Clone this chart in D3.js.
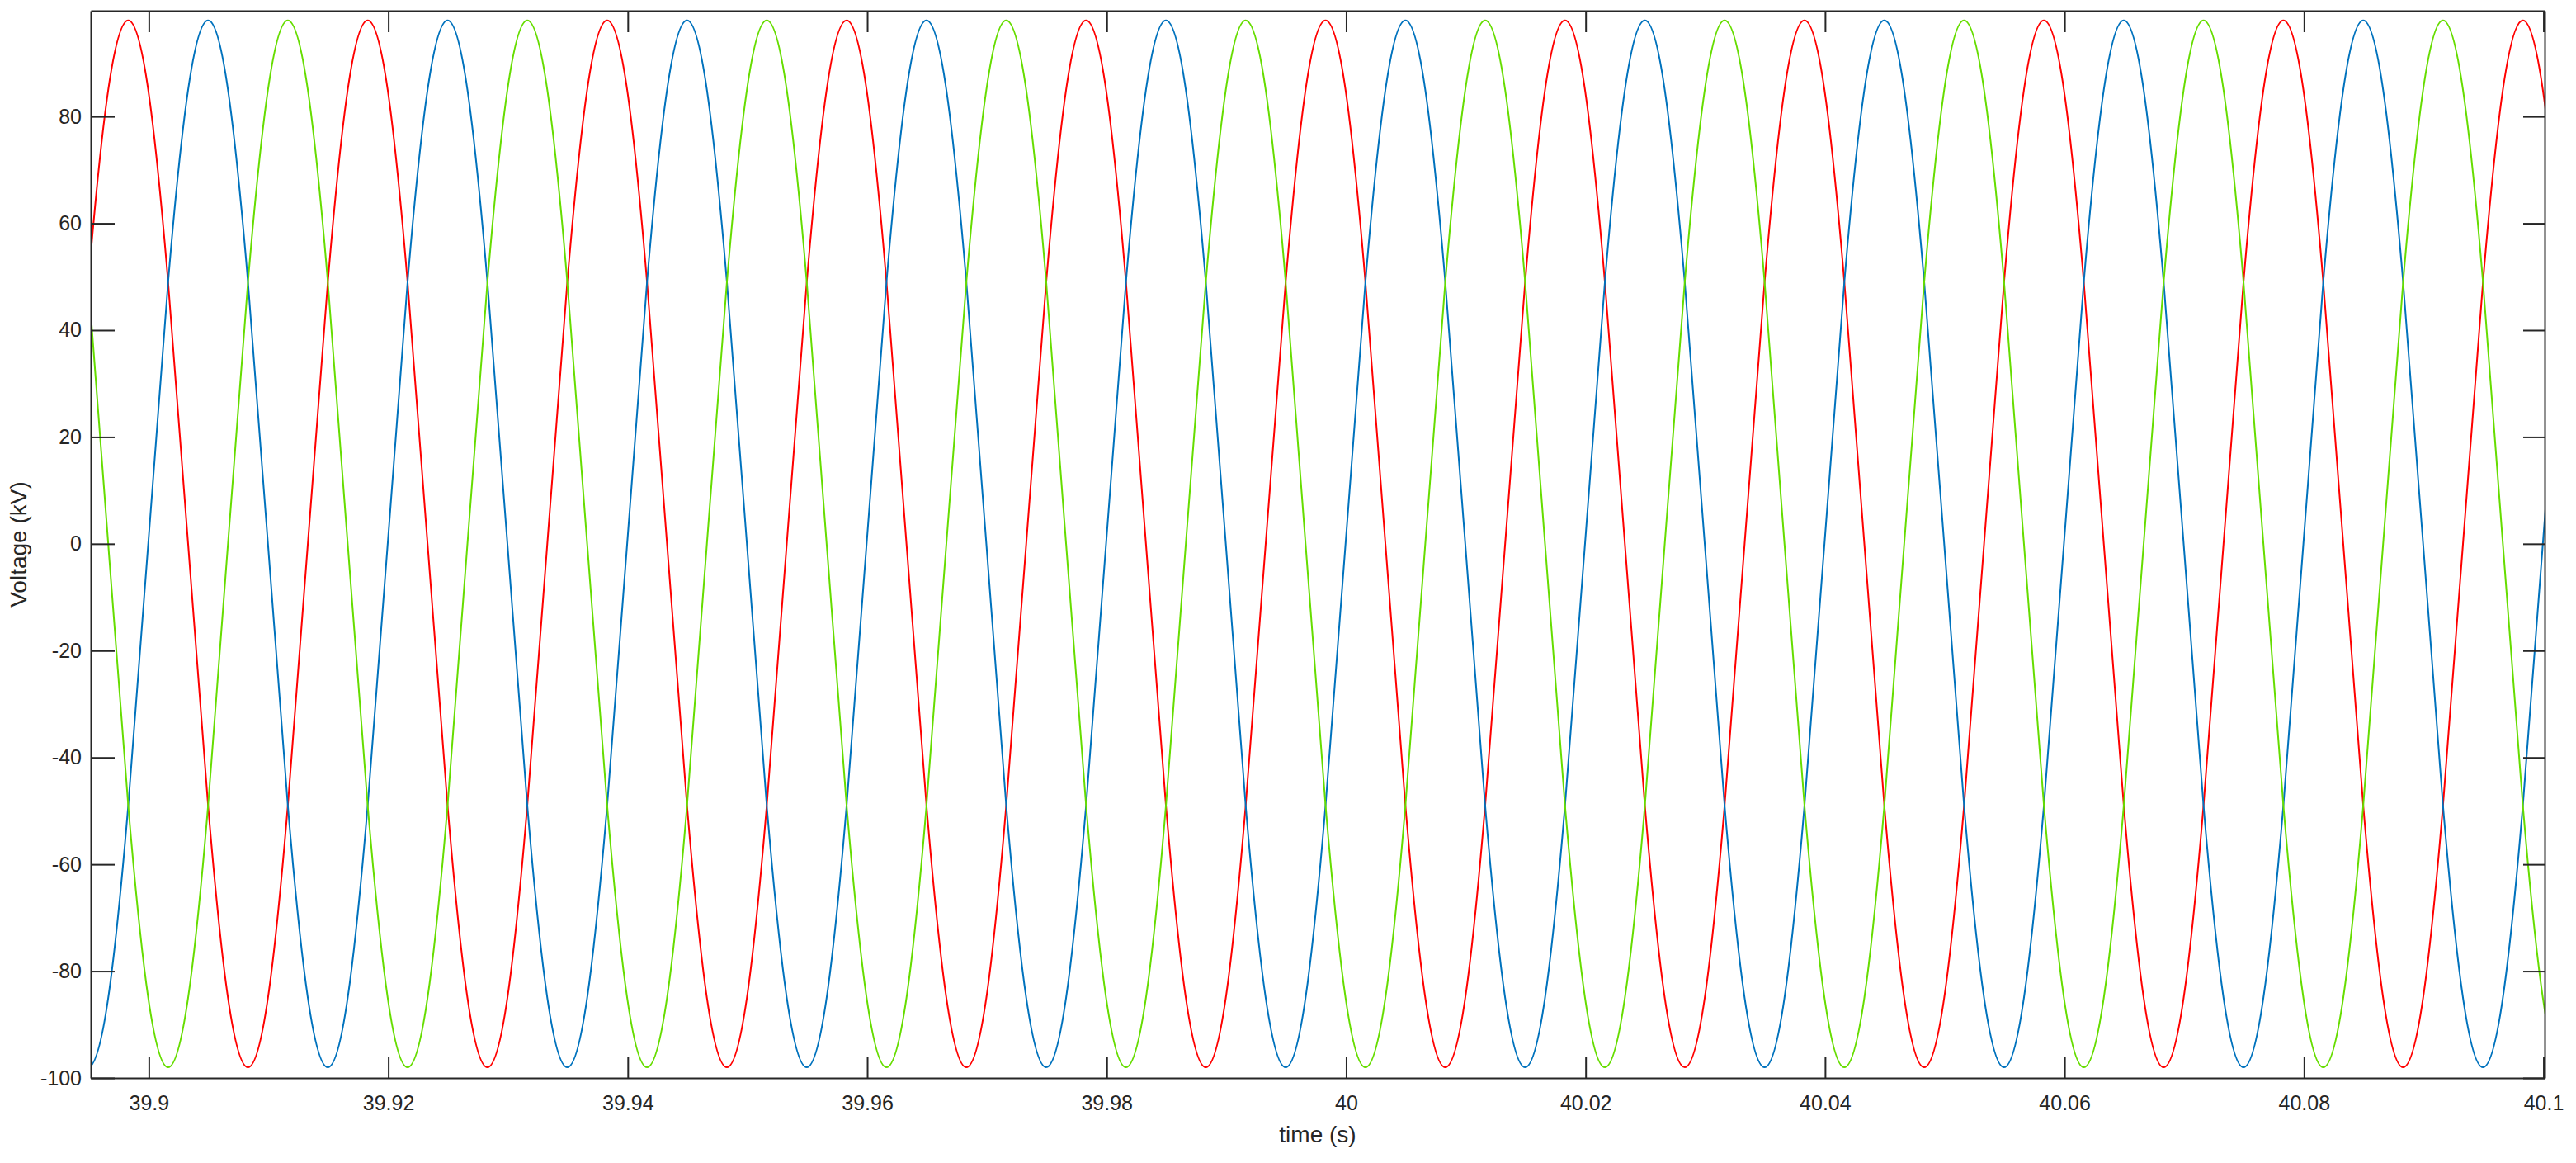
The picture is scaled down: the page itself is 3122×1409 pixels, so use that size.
<!DOCTYPE html>
<html>
<head>
<meta charset="utf-8">
<script src="https://cdn.jsdelivr.net/npm/d3@7"></script>
<style>
  html, body { margin: 0; padding: 0; background: #ffffff; }
  svg { display: block; }
  text { font-family: "Liberation Sans", Arial, Helvetica, sans-serif; fill: #262626; }
</style>
</head>
<body>
<svg id="chart" width="3122" height="1409"></svg>
<script>
// ---- data (sample points every 1/12 period) ----
const time = [
  39.89161, 39.89328, 39.89495, 39.89661, 39.89828, 39.89995,
  39.90161, 39.90328, 39.90495, 39.90661, 39.90828, 39.90995,
  39.91161, 39.91328, 39.91495, 39.91661, 39.91828, 39.91995,
  39.92161, 39.92328, 39.92495, 39.92661, 39.92828, 39.92995,
  39.93161, 39.93328, 39.93495, 39.93661, 39.93828, 39.93995,
  39.94161, 39.94328, 39.94495, 39.94661, 39.94828, 39.94995,
  39.95161, 39.95328, 39.95495, 39.95661, 39.95828, 39.95995,
  39.96161, 39.96328, 39.96495, 39.96661, 39.96828, 39.96995,
  39.97161, 39.97328, 39.97495, 39.97661, 39.97828, 39.97995,
  39.98161, 39.98328, 39.98495, 39.98661, 39.98828, 39.98995,
  39.99161, 39.99328, 39.99495, 39.99661, 39.99828, 39.99995,
  40.00161, 40.00328, 40.00495, 40.00661, 40.00828, 40.00995,
  40.01161, 40.01328, 40.01495, 40.01661, 40.01828, 40.01995,
  40.02161, 40.02328, 40.02495, 40.02661, 40.02828, 40.02995,
  40.03161, 40.03328, 40.03495, 40.03661, 40.03828, 40.03995,
  40.04161, 40.04328, 40.04495, 40.04661, 40.04828, 40.04995,
  40.05161, 40.05328, 40.05495, 40.05661, 40.05828, 40.05995,
  40.06161, 40.06328, 40.06495, 40.06661, 40.06828, 40.06995,
  40.07161, 40.07328, 40.07495, 40.07661, 40.07828, 40.07995,
  40.08161, 40.08328, 40.08495, 40.08661, 40.08828, 40.08995,
  40.09161, 40.09328, 40.09495, 40.09661, 40.09828, 40.09995,
  40.10161, 40.10328, 40.10495, 40.10661, 40.10828, 40.10995
];

const phaseA = [ // red
  -49, 0, 49, 85,
  98, 85, 49, 0, -49, -85, -98, -85, -49, 0, 49, 85,
  98, 85, 49, 0, -49, -85, -98, -85, -49, 0, 49, 85,
  98, 85, 49, 0, -49, -85, -98, -85, -49, 0, 49, 85,
  98, 85, 49, 0, -49, -85, -98, -85, -49, 0, 49, 85,
  98, 85, 49, 0, -49, -85, -98, -85, -49, 0, 49, 85,
  98, 85, 49, 0, -49, -85, -98, -85, -49, 0, 49, 85,
  98, 85, 49, 0, -49, -85, -98, -85, -49, 0, 49, 85,
  98, 85, 49, 0, -49, -85, -98, -85, -49, 0, 49, 85,
  98, 85, 49, 0, -49, -85, -98, -85, -49, 0, 49, 85,
  98, 85, 49, 0, -49, -85, -98, -85, -49, 0, 49, 85,
  98, 85, 49, 0, -49, -85, -98, -85
];

const phaseB = [ // blue
  -49, -85, -98, -85, -49, 0, 49, 85,
  98, 85, 49, 0, -49, -85, -98, -85, -49, 0, 49, 85,
  98, 85, 49, 0, -49, -85, -98, -85, -49, 0, 49, 85,
  98, 85, 49, 0, -49, -85, -98, -85, -49, 0, 49, 85,
  98, 85, 49, 0, -49, -85, -98, -85, -49, 0, 49, 85,
  98, 85, 49, 0, -49, -85, -98, -85, -49, 0, 49, 85,
  98, 85, 49, 0, -49, -85, -98, -85, -49, 0, 49, 85,
  98, 85, 49, 0, -49, -85, -98, -85, -49, 0, 49, 85,
  98, 85, 49, 0, -49, -85, -98, -85, -49, 0, 49, 85,
  98, 85, 49, 0, -49, -85, -98, -85, -49, 0, 49, 85,
  98, 85, 49, 0, -49, -85, -98, -85, -49, 0, 49, 85,
  98, 85, 49, 0
];

const phaseC = [ // green
  98, 85, 49, 0, -49, -85, -98, -85, -49, 0, 49, 85,
  98, 85, 49, 0, -49, -85, -98, -85, -49, 0, 49, 85,
  98, 85, 49, 0, -49, -85, -98, -85, -49, 0, 49, 85,
  98, 85, 49, 0, -49, -85, -98, -85, -49, 0, 49, 85,
  98, 85, 49, 0, -49, -85, -98, -85, -49, 0, 49, 85,
  98, 85, 49, 0, -49, -85, -98, -85, -49, 0, 49, 85,
  98, 85, 49, 0, -49, -85, -98, -85, -49, 0, 49, 85,
  98, 85, 49, 0, -49, -85, -98, -85, -49, 0, 49, 85,
  98, 85, 49, 0, -49, -85, -98, -85, -49, 0, 49, 85,
  98, 85, 49, 0, -49, -85, -98, -85, -49, 0, 49, 85,
  98, 85, 49, 0, -49, -85, -98, -85, -49, 0, 49, 85
];

const xTicks = [39.9, 39.92, 39.94, 39.96, 39.98, 40, 40.02, 40.04, 40.06, 40.08, 40.1];
const yTicks = [-100, -80, -60, -40, -20, 0, 20, 40, 60, 80];
const xDomain = [39.89515, 40.1001];
const yDomain = [-100, 99.8];
const xLabel = "time (s)";
const yLabel = "Voltage (kV)";

// ---- drawing ----
const svg = d3.select("#chart");
const L = 110, R = 3084, T = 13, B = 1306;
const ink = "#262626";

const x = d3.scaleLinear().domain(xDomain).range([L, R]);
const y = d3.scaleLinear().domain(yDomain).range([B, T]);

svg.append("defs").append("clipPath").attr("id", "plotclip")
  .append("rect").attr("x", L).attr("y", T).attr("width", R - L).attr("height", B - T);

const series = [
  { values: phaseA, color: "#ff0000" },
  { values: phaseB, color: "#0072bd" },
  { values: phaseC, color: "#66dd00" }
];

const line = d3.line()
  .x(d => x(d[0]))
  .y(d => y(d[1]))
  .curve(d3.curveNatural);

const plot = svg.append("g").attr("clip-path", "url(#plotclip)");
series.forEach(s => {
  plot.append("path")
    .datum(time.map((t, i) => [t, s.values[i]]))
    .attr("fill", "none")
    .attr("stroke", s.color)
    .attr("stroke-width", 2)
    .attr("d", line);
});

function styleAxis(g) {
  g.select(".domain").attr("stroke", ink).attr("stroke-width", 2);
  g.selectAll(".tick line").attr("stroke", ink).attr("stroke-width", 2);
  g.selectAll(".tick text").attr("fill", ink).style("font-size", "25px")
    .style("font-family", "'Liberation Sans', Arial, Helvetica, sans-serif");
}

const fmt = v => String(+v.toFixed(4));

svg.append("g").attr("transform", `translate(0,${B})`)
  .call(d3.axisBottom(x).tickValues(xTicks).tickSizeInner(-26).tickSizeOuter(0).tickPadding(21).tickFormat(fmt))
  .call(styleAxis);

svg.append("g").attr("transform", `translate(0,${T})`)
  .call(d3.axisTop(x).tickValues(xTicks).tickSizeInner(-26).tickSizeOuter(0).tickFormat(""))
  .call(styleAxis);

svg.append("g").attr("transform", `translate(${L},0)`)
  .call(d3.axisLeft(y).tickValues(yTicks).tickSizeInner(-29).tickSizeOuter(0).tickPadding(11).tickFormat(v => String(v)))
  .call(styleAxis);

svg.append("g").attr("transform", `translate(${R},0)`)
  .call(d3.axisRight(y).tickValues(yTicks).tickSizeInner(-26).tickSizeOuter(0).tickFormat(""))
  .call(styleAxis);

svg.selectAll(".tick text").attr("font-family", null);
svg.selectAll("g").attr("font-family", null).attr("font-size", null);

svg.append("text")
  .attr("x", (L + R) / 2)
  .attr("y", 1384)
  .attr("text-anchor", "middle")
  .style("font-size", "28px")
  .text(xLabel);

svg.append("text")
  .attr("transform", `translate(32,${(T + B) / 2}) rotate(-90)`)
  .attr("text-anchor", "middle")
  .style("font-size", "28px")
  .text(yLabel);
</script>
</body>
</html>
